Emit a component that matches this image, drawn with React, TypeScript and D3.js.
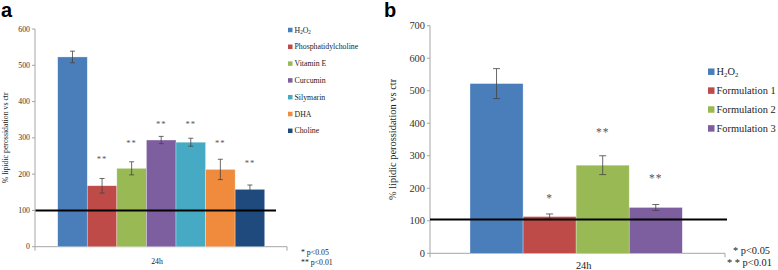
import React from "react";
import * as d3 from "d3";

// ---------- Panel a data ----------
const seriesA = ["H2O2", "Phosphatidylcholine", "Vitamin E", "Curcumin", "Silymarin", "DHA", "Choline"];
const valuesA = [523, 168, 216, 294, 288, 213, 158];
const errorsA = [16, 20, 18, 10, 11, 28, 12];
const starsA = ["", "**", "**", "**", "**", "**", "**"];
const starPosA = [0, 244, 289, 341, 341, 289, 234];
const colorsA = ["#4A7EBB", "#BE4B48", "#98B954", "#7D5FA0", "#46AAC4", "#F08A3C", "#1F4A7E"];
const ticksA = [0, 100, 200, 300, 400, 500, 600];
const refA = 100;

// ---------- Panel b data ----------
const seriesB = ["H2O2", "Formulation 1", "Formulation 2", "Formulation 3"];
const valuesB = [522, 113, 271, 141];
const errorsB = [46, 8, 29, 9];
const starsB = ["", "*", "**", "**"];
const starPosB = [0, 176, 377, 238];
const colorsB = ["#4A7EBB", "#BE4B48", "#98B954", "#7D5FA0"];
const ticksB = [0, 100, 200, 300, 400, 500, 600, 700];
const refB = 104;

const category = "24h";
const yLabel = "% lipidic perossidation vs ctr";
const SERIF = "'Liberation Serif', 'Times New Roman', Times, serif";
const SANS = "'Liberation Sans', Arial, sans-serif";

function Label({ name, fs }: { name: string; fs: number }) {
  if (name === "H2O2") {
    return (
      <>
        H<tspan fontSize={fs * 0.65} dy={fs * 0.15}>2</tspan>
        <tspan dy={-fs * 0.15}>O</tspan>
        <tspan fontSize={fs * 0.65} dy={fs * 0.15}>2</tspan>
      </>
    );
  }
  return <>{name}</>;
}

type PanelProps = {
  series: string[];
  values: number[];
  errors: number[];
  stars: string[];
  starPos: number[];
  colors: string[];
  ticks: number[];
  yMax: number;
  refV: number;
  axisX: number;
  axisRight: number;
  yTop: number;
  yBottom: number;
  barLeft: number;
  barRight: number;
  refLeft: number;
  refRight: number;
  fs: number;
  legendX: number;
  legendY0: number;
  legendStep: number;
  box: number;
  yLabelX: number;
  catX: number;
  catY: number;
  capW: number;
};

function Panel(p: PanelProps) {
  const y = d3.scaleLinear().domain([0, p.yMax]).range([p.yBottom, p.yTop]);
  const x = d3.scaleBand<string>().domain(p.series).range([p.barLeft, p.barRight]).padding(0);
  const axisColor = "#A6A6A6";
  return (
    <g>
      {/* y axis */}
      <line x1={p.axisX} x2={p.axisX} y1={p.yTop} y2={p.yBottom} stroke={axisColor} strokeWidth={1} />
      {p.ticks.map((t) => (
        <g key={t}>
          <line x1={p.axisX - 3} x2={p.axisX} y1={y(t)} y2={y(t)} stroke={axisColor} />
          <text x={p.axisX - 5} y={y(t)} dy="0.33em" textAnchor="end" fontSize={p.fs} fontFamily={SERIF} fill="#333">
            {t}
          </text>
        </g>
      ))}
      {/* x axis */}
      <line x1={p.axisX} x2={p.axisRight} y1={p.yBottom} y2={p.yBottom} stroke={axisColor} />
      <line x1={p.axisX} x2={p.axisX} y1={p.yBottom} y2={p.yBottom + 4} stroke={axisColor} />
      <line x1={p.axisRight} x2={p.axisRight} y1={p.yBottom} y2={p.yBottom + 4} stroke={axisColor} />
      <text x={p.catX} y={p.catY} textAnchor="middle" fontSize={p.fs} fontFamily={SERIF} fill="#222">
        {category}
      </text>
      {/* bars */}
      {p.series.map((s, i) => (
        <rect
          key={s}
          x={x(s)!}
          y={y(p.values[i])}
          width={x.bandwidth()}
          height={p.yBottom - y(p.values[i])}
          fill={p.colors[i]}
          stroke="#ffffff"
          strokeOpacity={0.5}
          strokeWidth={0.6}
        />
      ))}
      {/* error bars */}
      {p.series.map((s, i) => {
        const cx = x(s)! + x.bandwidth() / 2;
        const t = y(p.values[i] + p.errors[i]);
        const b = y(p.values[i] - p.errors[i]);
        return (
          <g key={"e" + s} stroke="#444" strokeWidth={0.8}>
            <line x1={cx} x2={cx} y1={t} y2={b} />
            <line x1={cx - p.capW} x2={cx + p.capW} y1={t} y2={t} />
            <line x1={cx - p.capW} x2={cx + p.capW} y1={b} y2={b} />
          </g>
        );
      })}
      {/* stars */}
      {p.series.map((s, i) =>
        p.stars[i] ? (
          <text
            key={"s" + s}
            x={x(s)! + x.bandwidth() / 2}
            y={y(p.starPos[i]) + p.fs * 0.55}
            textAnchor="middle"
            fontSize={p.fs * 1.1}
            fontFamily={SERIF}
            fill="#555"
            letterSpacing={1}
          >
            {p.stars[i]}
          </text>
        ) : null
      )}
      {/* reference line */}
      <line x1={p.refLeft} x2={p.refRight} y1={y(p.refV)} y2={y(p.refV)} stroke="#000" strokeWidth={2} />
      {/* legend */}
      {p.series.map((s, i) => {
        const ly = p.legendY0 + i * p.legendStep;
        return (
          <g key={"l" + s}>
            <rect x={p.legendX} y={ly - p.box / 2} width={p.box} height={p.box} fill={p.colors[i]} />
            <text x={p.legendX + p.box + 2} y={ly} dy="0.33em" fontSize={p.fs} fontFamily={SERIF} fill="#222">
              <Label name={s} fs={p.fs} />
            </text>
          </g>
        );
      })}
      {/* y label */}
      <text
        transform={`translate(${p.yLabelX},${(p.yTop + p.yBottom) / 2}) rotate(-90)`}
        textAnchor="middle"
        fontSize={p.fs}
        fontFamily={SERIF}
        fill="#222"
      >
        {yLabel}
      </text>
    </g>
  );
}

export default function App() {
  return (
    <svg width={778} height={270} style={{ position: "absolute", left: 0, top: 0, background: "#fff" }}>
      <rect width={778} height={270} fill="#fff" />
      <text x={1} y={17} fontSize={20} fontWeight="bold" fontFamily={SANS} fill="#000">a</text>
      <text x={384} y={17} fontSize={20} fontWeight="bold" fontFamily={SANS} fill="#000">b</text>
      <Panel
        series={seriesA}
        values={valuesA}
        errors={errorsA}
        stars={starsA}
        starPos={starPosA}
        colors={colorsA}
        ticks={ticksA}
        yMax={600}
        refV={refA}
        axisX={35}
        axisRight={287}
        yTop={29}
        yBottom={246.7}
        barLeft={57.7}
        barRight={264.7}
        refLeft={35.5}
        refRight={276}
        fs={7.8}
        legendX={288}
        legendY0={30}
        legendStep={16.8}
        box={4.5}
        yLabelX={8}
        catX={157}
        catY={264}
        capW={2.5}
      />
      <text x={301} y={254.5} fontSize={7.8} fontFamily={SERIF} fill="#222">*   p&lt;0.05</text>
      <text x={301} y={264.5} fontSize={7.8} fontFamily={SERIF} fill="#222">** p&lt;0.01</text>
      <Panel
        series={seriesB}
        values={valuesB}
        errors={errorsB}
        stars={starsB}
        starPos={starPosB}
        colors={colorsB}
        ticks={ticksB}
        yMax={700}
        refV={refB}
        axisX={430}
        axisRight={725}
        yTop={25.7}
        yBottom={253.3}
        barLeft={470}
        barRight={682.3}
        refLeft={430}
        refRight={727}
        fs={10.4}
        legendX={708}
        legendY0={71.7}
        legendStep={18.9}
        box={6.5}
        yLabelX={396}
        catX={583.7}
        catY={269}
        capW={3.5}
      />
      <text x={733} y={253.5} fontSize={10.4} fontFamily={SERIF} fill="#222">* p&lt;0.05</text>
      <text x={727} y={266} fontSize={10.4} fontFamily={SERIF} fill="#222">* * p&lt;0.01</text>
    </svg>
  );
}
